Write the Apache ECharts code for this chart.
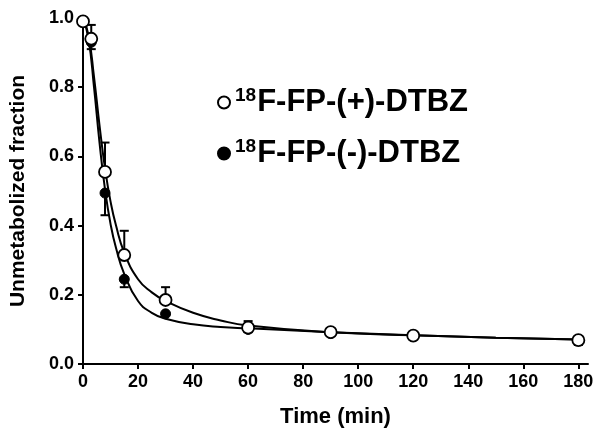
<!DOCTYPE html>
<html>
<head>
<meta charset="utf-8">
<script src="https://cdn.jsdelivr.net/npm/echarts@6/dist/echarts.min.js"></script>
<style>
  html, body { margin: 0; padding: 0; background: #fff; }
  #chart { width: 601px; height: 436px; }
</style>
</head>
<body>
<div id="chart"></div>
<script>
// sampling times (min) and measured fractions
const times = [0, 3, 8, 15, 30, 60, 90, 120, 180]
const plusMean = [0.99, 0.94, 0.555, 0.315, 0.185, 0.105, 0.092, 0.082, 0.069]
const plusErr = [0, 0.04, 0.085, 0.07, 0.037, 0.019, 0.007, 0.007, 0]
const minusMean = [0.99, 0.93, 0.494, 0.245, 0.145, 0.1, 0.088, 0.08, 0.068]
const minusErr = [0, 0.02, 0.064, 0.023, 0, 0.008, 0.006, 0.005, 0.013]

// fitted curves
const fitTimes = [0, 2, 4, 6, 8, 10, 12, 15, 20, 25, 30, 40, 50, 60, 90, 120, 150, 180]
const plusFit = [1.0, 0.95, 0.83, 0.69, 0.565, 0.47, 0.4, 0.322, 0.245, 0.207, 0.182, 0.148, 0.126, 0.111, 0.092, 0.083, 0.076, 0.071]
const minusFit = [1.0, 0.94, 0.8, 0.64, 0.505, 0.405, 0.335, 0.26, 0.182, 0.148, 0.131, 0.115, 0.107, 0.103, 0.092, 0.083, 0.076, 0.071]

const xTicks = [0, 20, 40, 60, 80, 100, 120, 140, 160, 180]
const yTicks = [0, 0.2, 0.4, 0.6, 0.8, 1.0]

const PLUS = '18F-FP-(+)-DTBZ'
const MINUS = '18F-FP-(-)-DTBZ'
const FONT = '"Liberation Sans", Arial, sans-serif'

const pair = (xs, ys) => xs.map((x, i) => [x, ys[i]])

// error bar: [t, mean, end]
const errData = (means, errs, dir) =>
  times.map((t, i) => [t, means[i], means[i] + dir * errs[i]]).filter((d, i) => errs[i] > 0)

const renderErr = (params, api) => {
  const p0 = api.coord([api.value(0), api.value(1)])
  const p1 = api.coord([api.value(0), api.value(2)])
  const w = 4.5
  const st = { stroke: '#000', lineWidth: 2 }
  return {
    type: 'group',
    children: [
      { type: 'line', shape: { x1: p0[0], y1: p0[1], x2: p1[0], y2: p1[1] }, style: st },
      { type: 'line', shape: { x1: p1[0] - w, y1: p1[1], x2: p1[0] + w, y2: p1[1] }, style: st }
    ]
  }
}

const fitLine = (name, ys) => ({
  name,
  type: 'line',
  data: pair(fitTimes, ys),
  smooth: 0.5,
  showSymbol: false,
  silent: true,
  lineStyle: { color: '#000', width: 2 },
  z: 2
})

const myChart = echarts.init(document.getElementById('chart'))

const option = {
  animation: false,
  backgroundColor: '#fff',
  grid: { left: 72, right: 13, top: 18, bottom: 72 },
  legend: {
    data: [PLUS, MINUS],
    orient: 'vertical',
    left: 212,
    top: 81,
    itemWidth: 12,
    itemHeight: 12,
    itemGap: 19,
    formatter: (name) => '{sup|18}{main|' + name.slice(2) + '}',
    textStyle: {
      rich: {
        sup: { fontFamily: FONT, fontWeight: 'bold', fontSize: 19, color: '#000', verticalAlign: 'top', padding: [0, 1, 14, 0] },
        main: { fontFamily: FONT, fontWeight: 'bold', fontSize: 31, color: '#000' }
      }
    }
  },
  xAxis: {
    type: 'value',
    min: 0,
    max: 183.5,
    name: 'Time (min)',
    nameLocation: 'middle',
    nameGap: 42,
    nameTextStyle: { fontFamily: FONT, fontWeight: 'bold', fontSize: 22, color: '#000' },
    splitLine: { show: false },
    axisLine: { lineStyle: { color: '#000', width: 2 } },
    axisTick: { customValues: xTicks, length: 5, lineStyle: { color: '#000', width: 2 } },
    axisLabel: {
      customValues: xTicks,
      margin: 9,
      fontFamily: FONT, fontWeight: 'bold', fontSize: 18, color: '#000'
    }
  },
  yAxis: {
    type: 'value',
    min: 0,
    max: 1.0,
    name: 'Unmetabolized fraction',
    nameLocation: 'middle',
    nameGap: 54,
    nameTextStyle: { fontFamily: FONT, fontWeight: 'bold', fontSize: 21, color: '#000' },
    splitLine: { show: false },
    axisLine: { show: true, lineStyle: { color: '#000', width: 2 } },
    axisTick: { show: true, customValues: yTicks, length: 5, lineStyle: { color: '#000', width: 2 } },
    axisLabel: {
      customValues: yTicks,
      margin: 9,
      formatter: (v) => v.toFixed(1),
      fontFamily: FONT, fontWeight: 'bold', fontSize: 18, color: '#000'
    }
  },
  series: [
    fitLine('fit-minus', minusFit),
    fitLine('fit-plus', plusFit),
    {
      name: 'err-minus',
      type: 'custom',
      renderItem: renderErr,
      data: errData(minusMean, minusErr, -1),
      z: 3
    },
    {
      name: 'err-plus',
      type: 'custom',
      renderItem: renderErr,
      data: errData(plusMean, plusErr, 1),
      z: 3
    },
    {
      name: MINUS,
      type: 'scatter',
      data: pair(times, minusMean),
      symbol: 'circle',
      symbolSize: 10,
      itemStyle: { color: '#000', borderColor: '#000', borderWidth: 1, opacity: 1 },
      z: 4
    },
    {
      name: PLUS,
      type: 'scatter',
      data: pair(times, plusMean),
      symbol: 'circle',
      symbolSize: 12,
      itemStyle: { color: '#fff', borderColor: '#000', borderWidth: 1.8, opacity: 1 },
      z: 5
    }
  ]
}

myChart.setOption(option)
</script>
</body>
</html>
